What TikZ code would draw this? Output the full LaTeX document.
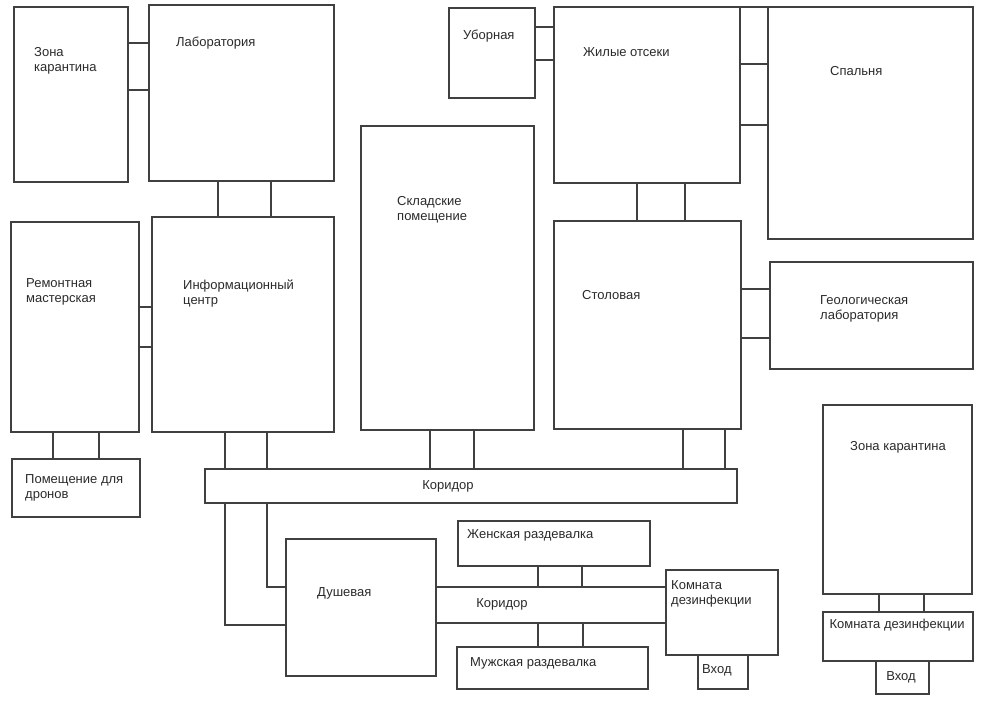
\documentclass[tikz,border=0pt]{standalone}
\usepackage{fontspec}
\setmainfont{Liberation Sans}
\usepackage{tikz}
\usetikzlibrary{positioning,calc}
\definecolor{wall}{HTML}{404040}
\definecolor{ink}{HTML}{2A2A2A}
\tikzset{
    room/.style={draw=wall, line width=1.3pt, inner sep=0pt, outer sep=0pt, anchor=north west},
    lbl/.style={font=\fontsize{13}{15}\selectfont, text=ink, inner sep=0pt, align=left, anchor=west},
    door/.style={draw=wall, line width=1.3pt}
}
\begin{document}
\begin{tikzpicture}[x=1pt, y=-1pt]
    \useasboundingbox (0,0) rectangle (1000,706);
    % rooms
    \foreach \name/\x/\y/\w/\h in {zkl/14/7/114/175, lab/149/5/185/176, remont/11/222/128/210,
        info/152/217/182/215, drone/12/459/128/58, sklad/361/126/173/304, ubor/449/8/86/90,
        zhil/554/7/186/176, spal/768/7/205/232, stol/554/221/187/208, geo/770/262/203/107,
        zkr/823/405/149/189, komr/823/612/150/49, vhodr/876/661/53/33, corr/205/469/532/34,
        dush/286/539/150/137, zhen/458/521/192/45, muzh/457/647/191/42, koml/666/570/112/85,
        vhodl/698/655/50/34} {
        \node[room, minimum width=\w pt, minimum height=\h pt] (\name) at (\x,\y) {};
    }
    \node[room, draw=none, minimum width=230pt, minimum height=36pt] (corrb) at (436,587) {};
    \draw[door] (corrb.north west) -- (corrb.north east);
    \draw[door] (corrb.south west) -- (corrb.south east);
    \draw[door] (zhil.north east) -- (spal.north west);

    % doors
    \foreach \y in {43,90} \draw[door] (zkl.east |- 0,\y) -- (lab.west |- 0,\y);
    \foreach \x in {218,271} \draw[door] (lab.south -| \x,0) -- (info.north -| \x,0);
    \foreach \y in {307,347} \draw[door] (remont.east |- 0,\y) -- (info.west |- 0,\y);
    \foreach \x in {53,99} \draw[door] (remont.south -| \x,0) -- (drone.north -| \x,0);
    \foreach \x in {225,267} \draw[door] (info.south -| \x,0) -- (corr.north -| \x,0);
    \foreach \x in {430,474} \draw[door] (sklad.south -| \x,0) -- (corr.north -| \x,0);
    \foreach \x in {683,725} \draw[door] (stol.south -| \x,0) -- (corr.north -| \x,0);
    \foreach \y in {27,60} \draw[door] (ubor.east |- 0,\y) -- (zhil.west |- 0,\y);
    \foreach \y in {64,125} \draw[door] (zhil.east |- 0,\y) -- (spal.west |- 0,\y);
    \foreach \x in {637,685} \draw[door] (zhil.south -| \x,0) -- (stol.north -| \x,0);
    \foreach \y in {289,338} \draw[door] (stol.east |- 0,\y) -- (geo.west |- 0,\y);
    \foreach \x in {879,924} \draw[door] (zkr.south -| \x,0) -- (komr.north -| \x,0);
    \foreach \x in {538,582} \draw[door] (zhen.south -| \x,0) -- (corrb.north -| \x,0);
    \foreach \x in {538,583} \draw[door] (corrb.south -| \x,0) -- (muzh.north -| \x,0);
    \draw[door] (corr.south -| 225,0) |- (dush.west |- 0,625);
    \draw[door] (corr.south -| 267,0) |- (dush.west |- 0,587);

    % labels
    \node[lbl] (t-zkl) at (34,60.5) {Зона\\карантина};
    \node[lbl] (t-lab) at (176,43) {Лаборатория};
    \node[lbl] (t-remont) at (26,291.5) {Ремонтная\\мастерская};
    \node[lbl] (t-info) at (183,293.5) {Информационный\\центр};
    \node[lbl] (t-drone) at (25,488) {Помещение для\\дронов};
    \node[lbl, anchor=center] (t-corr) at (448,486) {Коридор};
    \node[lbl] (t-sklad) at (397,209.5) {Складские\\помещение};
    \node[lbl] (t-ubor) at (463,36) {Уборная};
    \node[lbl] (t-zhil) at (583,52) {Жилые отсеки};
    \node[lbl] (t-spal) at (830,71) {Спальня};
    \node[lbl] (t-stol) at (582,295) {Столовая};
    \node[lbl] (t-geo) at (820,308.5) {Геологическая\\лаборатория};
    \node[lbl, anchor=center] (t-zkr) at (898,447) {Зона карантина};
    \node[lbl, anchor=center] (t-komr) at (897,625) {Комната дезинфекции};
    \node[lbl, anchor=center] (t-vhodr) at (901,677) {Вход};
    \node[lbl] (t-dush) at (317,593) {Душевая};
    \node[lbl, anchor=center] (t-corrb) at (502,604) {Коридор};
    \node[lbl] (t-zhen) at (467,535) {Женская раздевалка};
    \node[lbl] (t-muzh) at (470,663) {Мужская раздевалка};
    \node[lbl] (t-koml) at (671,593.5) {Комната\\дезинфекции};
    \node[lbl] (t-vhodl) at (702,670) {Вход};
\end{tikzpicture}
\end{document}
